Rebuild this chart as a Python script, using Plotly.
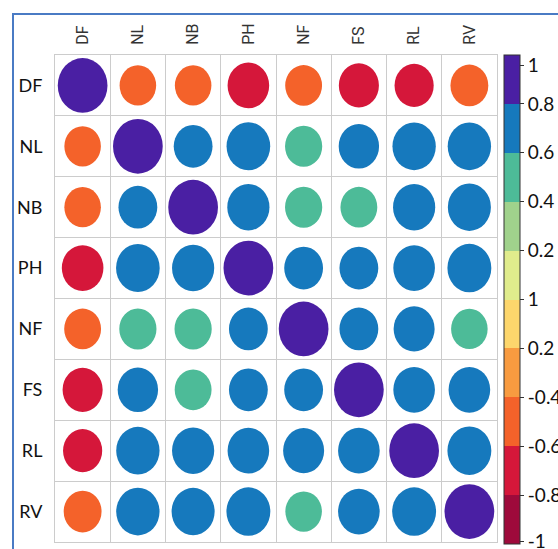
import numpy as np
import plotly.graph_objects as go

# Trait names (rows and columns of the correlation matrix)
traits = ["DF", "NL", "NB", "PH", "NF", "FS", "RL", "RV"]

# Upper-triangle correlations, row by row (row i, columns i+1 .. 7)
upper = [
    [-0.54, -0.54, -0.70, -0.55, -0.65, -0.62, -0.58],   # DF
    [0.61, 0.77, 0.56, 0.66, 0.76, 0.76],                 # NL
    [0.72, 0.56, 0.55, 0.72, 0.75],                       # NB
    [0.61, 0.61, 0.70, 0.78],                             # PH
    [0.61, 0.68, 0.54],                                   # NF
    [0.70, 0.70],                                         # FS
    [0.78],                                               # RL
]

# Colour bar bins (-1 .. 1 in steps of 0.2) and their printed labels
bin_colors = ["#9e0a3b", "#d5173a", "#f4622a", "#f89b40", "#fdd66c",
              "#e0ec8c", "#a0d28c", "#4dbb98", "#1679bd", "#4a1fa3"]
cbar_tickvals = [0.959, 0.8, 0.6, 0.4, 0.2, 0.0, -0.2, -0.4, -0.6, -0.8, -0.99]
cbar_ticktext = ["1", "0.8", "0.6", "0.4", "0.2", "1", "0.2", "-0.4", "-0.6", "-0.8", "-1"]

n = len(traits)
corr = np.eye(n)
for i, row in enumerate(upper):
    for k, v in enumerate(row):
        j = i + 1 + k
        corr[i, j] = v
        corr[j, i] = v

# Discrete colourscale
colorscale = []
for b, c in enumerate(bin_colors):
    colorscale.append([b / 10, c])
    colorscale.append([(b + 1) / 10, c])


def bin_color(v):
    idx = int(np.floor((v + 1) / 0.2))
    return bin_colors[min(max(idx, 0), 9)]


W, H = 558, 549
ml, mr, mt, mb = 55, 61, 55, 7
pw, ph = W - ml - mr, H - mt - mb


def px_x(p):
    return (p - ml) / pw


def px_y(p):
    return (H - mb - p) / ph


fig = go.Figure()

xs, ys, cs = [], [], []
shapes = []
for i in range(n):
    for j in range(n):
        v = corr[i, j]
        d = 0.9 * np.sqrt(abs(v))
        shapes.append(dict(
            type="circle", xref="x", yref="y",
            x0=j - d / 2, x1=j + d / 2, y0=i - d / 2, y1=i + d / 2,
            fillcolor=bin_color(v), line=dict(width=0), layer="above",
        ))
        xs.append(j)
        ys.append(i)
        cs.append(v)

# Centre points carry the colour mapping for the colour bar
fig.add_trace(go.Scatter(
    x=xs, y=ys, mode="markers", hoverinfo="skip",
    marker=dict(
        size=1, color=cs, cmin=-1, cmax=1, colorscale=colorscale,
        showscale=True,
        colorbar=dict(
            x=px_x(504), xanchor="left", xref="paper", xpad=0,
            y=px_y(55), yanchor="top", yref="paper", ypad=0,
            lenmode="pixels", len=489, thickness=16,
            outlinewidth=1, outlinecolor="#333333",
            tickmode="array", tickvals=cbar_tickvals, ticktext=cbar_ticktext,
            ticks="outside", ticklen=4, tickcolor="#333333",
            ticklabeloverflow="allow",
            tickfont=dict(family="Lato", size=19, color="#111111"),
        ),
    ),
))

# Outer blue frame
shapes.append(dict(
    type="rect", xref="paper", yref="paper", layer="below",
    x0=px_x(13), x1=px_x(600), y0=px_y(600), y1=px_y(14),
    line=dict(color="#4a7bc4", width=2), fillcolor="rgba(0,0,0,0)",
))

fig.update_layout(
    width=W, height=H,
    margin=dict(l=ml, r=mr, t=mt, b=mb, autoexpand=False),
    paper_bgcolor="white", plot_bgcolor="white",
    shapes=shapes, showlegend=False,
    xaxis=dict(
        range=[-0.5, n - 0.5], side="top",
        tickmode="array", tickvals=list(range(n)), ticktext=traits,
        tickangle=-90, ticks="outside", ticklen=6, tickcolor="rgba(0,0,0,0)",
        tickfont=dict(family="Roboto", size=16, color="#333333"),
        showgrid=False, zeroline=False,
        showline=True, linecolor="#cccccc", linewidth=1, mirror=True,
        minor=dict(tick0=0.5, dtick=1, showgrid=True, gridcolor="#cccccc", gridwidth=1),
    ),
    yaxis=dict(
        range=[n - 0.5, -0.5],
        tickmode="array", tickvals=list(range(n)), ticktext=traits,
        ticks="outside", ticklen=8, tickcolor="rgba(0,0,0,0)",
        tickfont=dict(family="Lato", size=18, color="#111111"),
        showgrid=False, zeroline=False,
        showline=True, linecolor="#cccccc", linewidth=1, mirror=True,
        minor=dict(tick0=0.5, dtick=1, showgrid=True, gridcolor="#cccccc", gridwidth=1),
    ),
)

fig.write_html("out.html")
